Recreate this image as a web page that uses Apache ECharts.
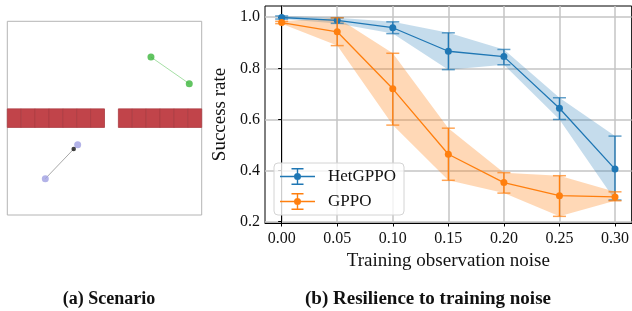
<!DOCTYPE html>
<html>
<head>
<meta charset="utf-8">
<script src="https://cdn.jsdelivr.net/npm/echarts@6/dist/echarts.min.js"></script>
<style>
html,body{margin:0;padding:0;background:#fff;}
#chart{width:632px;height:311px;}
</style>
</head>
<body>
<div id="chart"></div>
<script>
// ---- data: panel (b) ----
var noise     = [0.00, 0.05, 0.10, 0.15, 0.20, 0.25, 0.30];
var xTicks    = [0.00, 0.05, 0.10, 0.15, 0.20, 0.25, 0.30];
var yTicks    = [0.2, 0.4, 0.6, 0.8, 1.0];
var hetMean   = [0.999, 0.988, 0.959, 0.867, 0.846, 0.644, 0.406];
var hetLo     = [0.993, 0.976, 0.936, 0.795, 0.814, 0.600, 0.285];
var hetHi     = [1.005, 0.998, 0.982, 0.939, 0.874, 0.685, 0.535];
var gppoMean  = [0.979, 0.943, 0.720, 0.464, 0.353, 0.302, 0.297];
var gppoLo    = [0.975, 0.889, 0.578, 0.362, 0.312, 0.221, 0.282];
var gppoHi    = [0.984, 0.998, 0.859, 0.566, 0.392, 0.380, 0.317];
var seriesNames = ['HetGPPO', 'GPPO'];

// ---- data: panel (a) scenario (scene units, -1..1) ----
var wallY = [-0.096, 0.096];
var wallBlocks = [
  [-1, -6/7], [-6/7, -5/7], [-5/7, -4/7], [-4/7, -3/7], [-3/7, -2/7], [-2/7, -1/7], [-1/7, 0],
  [1/7, 2/7], [2/7, 3/7], [3/7, 4/7], [4/7, 5/7], [5/7, 6/7], [6/7, 1]
];
var greenAgents = [[0.478, 0.631], [0.872, 0.356]];
var purpleAgents = [[-0.276, -0.274], [-0.609, -0.625]];
var blackAgent = [[-0.317, -0.319]];
var grayLink = [[-0.317, -0.319], [-0.609, -0.625]];

var FONT = 'Liberation Serif';
var BLUE = '#1f77b4', ORANGE = '#ff7f0e';

function zip(xs, ys) { return xs.map(function (x, i) { return [x, ys[i]]; }); }
function zip3(xs, a, b) { return xs.map(function (x, i) { return [x, a[i], b[i]]; }); }

function bandRender(lo, hi, color, opacity) {
  return function (params, api) {
    if (params.dataIndex !== 0) return null;
    var pts = [];
    for (var i = 0; i < noise.length; i++) pts.push(api.coord([noise[i], hi[i]]));
    for (var j = noise.length - 1; j >= 0; j--) pts.push(api.coord([noise[j], lo[j]]));
    return { type: 'polygon', shape: { points: pts }, style: { fill: color, opacity: opacity } };
  };
}
function errRender(color) {
  return function (params, api) {
    var x = api.value(0);
    var pLo = api.coord([x, api.value(1)]);
    var pHi = api.coord([x, api.value(2)]);
    var hw = 6.5;
    return {
      type: 'group', children: [
        { type: 'line', shape: { x1: pLo[0], y1: pLo[1], x2: pHi[0], y2: pHi[1] }, style: { stroke: color, lineWidth: 1.3 } },
        { type: 'line', shape: { x1: pHi[0] - hw, y1: pHi[1], x2: pHi[0] + hw, y2: pHi[1] }, style: { stroke: color, lineWidth: 1.5, opacity: 0.7 } },
        { type: 'line', shape: { x1: pLo[0] - hw, y1: pLo[1], x2: pLo[0] + hw, y2: pLo[1] }, style: { stroke: color, lineWidth: 1.5, opacity: 0.7 } }
      ]
    };
  };
}

var iconPath = 'path://' +
  'M0 7.8 H35 V9.2 H0 Z ' +
  'M16.8 0 H18.2 V17 H16.8 Z ' +
  'M11.5 0 H23.5 V1.4 H11.5 Z ' +
  'M11.5 15.6 H23.5 V17 H11.5 Z ' +
  'M14 8.5 A3.5 3.5 0 0 1 21 8.5 A3.5 3.5 0 0 1 14 8.5 Z';

var chart = echarts.init(document.getElementById('chart'), null, { renderer: 'canvas' });
var option = {
  animation: false,
  backgroundColor: '#fff',
  textStyle: { fontFamily: FONT },
  title: [
    { text: '(a) Scenario', left: 104, top: 285, textAlign: 'center',
      textStyle: { fontFamily: FONT, fontSize: 18, fontWeight: 'bold', color: '#111' } },
    { text: '(b) Resilience to training noise', left: 423, top: 285, textAlign: 'center',
      textStyle: { fontFamily: FONT, fontSize: 19, fontWeight: 'bold', color: '#111' } }
  ],
  legend: {
    orient: 'vertical', left: 274, top: 163,
    itemWidth: 35, itemHeight: 17, itemGap: 8,
    padding: [5, 8, 5, 6],
    backgroundColor: 'rgba(255,255,255,0.8)', borderColor: '#d4d4d4', borderWidth: 1, borderRadius: 4,
    textStyle: { fontFamily: FONT, fontSize: 17, color: '#111', padding: [0, 0, 0, 8] },
    data: [
      { name: seriesNames[0], icon: iconPath },
      { name: seriesNames[1], icon: iconPath }
    ]
  },
  grid: [
    { left: 265, top: 6, width: 368, height: 217, show: true, borderColor: '#000', borderWidth: 1, containLabel: false },
    { left: 7.3, top: 21.3, width: 194.4, height: 193.7, show: true, borderColor: '#b4b4b4', borderWidth: 1, backgroundColor: '#fff' }
  ],
  xAxis: [
    {
      gridIndex: 0, type: 'value', min: -0.015, max: 0.315,
      name: 'Training observation noise', nameLocation: 'middle', nameGap: 26,
      nameTextStyle: { fontFamily: FONT, fontSize: 19, color: '#111' },
      axisLine: { show: true, lineStyle: { color: '#000', width: 1 } },
      axisTick: { show: true, inside: false, length: 3.5, lineStyle: { color: '#000' }, customValues: xTicks },
      axisLabel: { customValues: xTicks, margin: 8, fontFamily: FONT, fontSize: 16, color: '#111',
        formatter: function (v) { return v.toFixed(2); } },
      splitLine: { show: true, lineStyle: { color: '#c4c4c4', width: 1.5 } }
    },
    { gridIndex: 1, type: 'value', min: -1, max: 1, show: false }
  ],
  yAxis: [
    {
      gridIndex: 0, type: 'value', min: 0.195, max: 1.044,
      name: 'Success rate', nameLocation: 'middle', nameGap: 28,
      nameTextStyle: { fontFamily: FONT, fontSize: 19, color: '#111' },
      axisLine: { show: true, lineStyle: { color: '#000', width: 1 } },
      axisTick: { show: true, inside: false, length: 3.5, lineStyle: { color: '#000' }, customValues: yTicks },
      axisLabel: { customValues: yTicks, margin: 5, fontFamily: FONT, fontSize: 16, color: '#111',
        formatter: function (v) { return v.toFixed(1); } },
      splitLine: { show: true, lineStyle: { color: '#c4c4c4', width: 1.5 } }
    },
    { gridIndex: 1, type: 'value', min: -1, max: 1, show: false }
  ],
  series: [
    // panel (b)
    { name: 'hetBand', type: 'custom', xAxisIndex: 0, yAxisIndex: 0, silent: true, z: 1,
      renderItem: bandRender(hetLo, hetHi, BLUE, 0.26), data: zip(noise, hetMean), encode: { x: 0, y: 1 } },
    { name: 'gppoBand', type: 'custom', xAxisIndex: 0, yAxisIndex: 0, silent: true, z: 1,
      renderItem: bandRender(gppoLo, gppoHi, ORANGE, 0.3), data: zip(noise, gppoMean), encode: { x: 0, y: 1 } },
    { name: 'hetErr', type: 'custom', xAxisIndex: 0, yAxisIndex: 0, silent: true, z: 3,
      renderItem: errRender(BLUE), data: zip3(noise, hetLo, hetHi), encode: { x: 0, y: [1, 2] } },
    { name: seriesNames[0], type: 'line', xAxisIndex: 0, yAxisIndex: 0, z: 4,
      data: zip(noise, hetMean), color: BLUE, symbol: 'circle', symbolSize: 7,
      lineStyle: { width: 1.3, color: BLUE }, itemStyle: { color: BLUE } },
    { name: 'gppoErr', type: 'custom', xAxisIndex: 0, yAxisIndex: 0, silent: true, z: 5,
      renderItem: errRender(ORANGE), data: zip3(noise, gppoLo, gppoHi), encode: { x: 0, y: [1, 2] } },
    { name: seriesNames[1], type: 'line', xAxisIndex: 0, yAxisIndex: 0, z: 6,
      data: zip(noise, gppoMean), color: ORANGE, symbol: 'circle', symbolSize: 7,
      lineStyle: { width: 1.3, color: ORANGE }, itemStyle: { color: ORANGE } },

    // panel (a)
    { name: 'wall', type: 'custom', xAxisIndex: 1, yAxisIndex: 1, silent: true, z: 2,
      data: wallBlocks, encode: { x: [0, 1] },
      renderItem: function (params, api) {
        var a = api.coord([api.value(0), wallY[1]]);
        var b = api.coord([api.value(1), wallY[0]]);
        return { type: 'rect', shape: { x: a[0], y: a[1], width: b[0] - a[0], height: b[1] - a[1] },
          style: { fill: '#c1444a', stroke: '#ab3b41', lineWidth: 0.8 } };
      } },
    { name: 'greenLink', type: 'line', xAxisIndex: 1, yAxisIndex: 1, silent: true, z: 3,
      data: greenAgents, symbol: 'none', lineStyle: { color: '#a6e0a6', width: 1 } },
    { name: 'grayLink', type: 'line', xAxisIndex: 1, yAxisIndex: 1, silent: true, z: 3,
      data: grayLink, symbol: 'none', lineStyle: { color: '#a8a8a8', width: 1 } },
    { name: 'green', type: 'scatter', xAxisIndex: 1, yAxisIndex: 1, silent: true, z: 4,
      data: greenAgents, symbolSize: 7, itemStyle: { color: '#3bb53b' } },
    { name: 'purple', type: 'scatter', xAxisIndex: 1, yAxisIndex: 1, silent: true, z: 4,
      data: purpleAgents, symbolSize: 7, itemStyle: { color: '#a0a0e2' } },
    { name: 'black', type: 'scatter', xAxisIndex: 1, yAxisIndex: 1, silent: true, z: 5,
      data: blackAgent, symbolSize: 4.5, itemStyle: { color: '#111' } }
  ]
};
chart.setOption(option);
</script>
</body>
</html>
